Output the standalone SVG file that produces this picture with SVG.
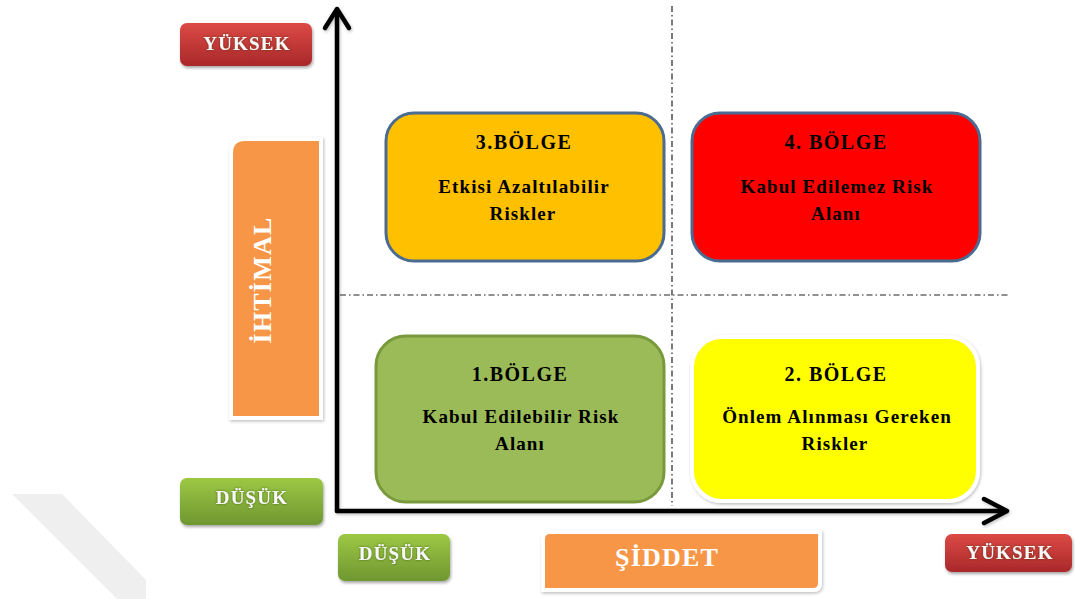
<svg xmlns="http://www.w3.org/2000/svg" width="1075" height="599" viewBox="0 0 1075 599">
  <style>
    .zone-title { font-family: "Liberation Serif", "Times New Roman", serif; font-weight: bold; font-size: 20px; letter-spacing: 1.5px; fill: #000; text-anchor: middle; }
    .zone-text { font-family: "Liberation Serif", "Times New Roman", serif; font-weight: bold; font-size: 19px; letter-spacing: 1.1px; fill: #000; text-anchor: middle; }
    .btn-text { font-family: "Liberation Serif", "Times New Roman", serif; font-weight: bold; font-size: 19px; letter-spacing: 1.2px; fill: #f8f8f8; text-anchor: middle; }
    .axis-title { font-family: "Liberation Serif", "Times New Roman", serif; font-weight: bold; font-size: 26px; letter-spacing: 1.2px; fill: #ffffff; text-anchor: middle; }
    .axis { stroke: #000; stroke-width: 4.5; fill: none; stroke-linecap: round; stroke-linejoin: round; }
    .grid { stroke: #222; stroke-width: 1.2; fill: none; stroke-dasharray: 6 3 1.5 3; }
  </style>
  <defs>
    <linearGradient id="redGrad" x1="0" y1="0" x2="0" y2="1">
      <stop offset="0" stop-color="#dc4a45"/>
      <stop offset="1" stop-color="#a9282a"/>
    </linearGradient>
    <linearGradient id="greenGrad" x1="0" y1="0" x2="0" y2="1">
      <stop offset="0" stop-color="#9cc844"/>
      <stop offset="1" stop-color="#6f9731"/>
    </linearGradient>
    <filter id="shadow" x="-10%" y="-10%" width="130%" height="140%">
      <feDropShadow dx="1" dy="2" stdDeviation="1.5" flood-color="#000" flood-opacity="0.35"/>
    </filter>
    <filter id="softShadow" x="-10%" y="-10%" width="130%" height="130%">
      <feDropShadow dx="1" dy="1.5" stdDeviation="1.5" flood-color="#000" flood-opacity="0.25"/>
    </filter>
    <filter id="textGlow" x="-10%" y="-30%" width="120%" height="160%">
      <feDropShadow dx="0" dy="0" stdDeviation="0.8" flood-color="#2a3a10" flood-opacity="0.7"/>
    </filter>
  </defs>

  <!-- faint diagonal band in the lower-left corner -->
  <polygon points="12,494 62,494 146,580 146,599 117,599" fill="#efefef"/>

  <!-- dash-dot quadrant dividers and the two axes -->
  <g id="connectors">
    <line class="grid" x1="340" y1="295" x2="1010" y2="295"/>
    <line class="grid" x1="672" y1="6" x2="672" y2="506"/>
    <g filter="url(#softShadow)">
      <polyline class="axis" points="337,511 337,10"/>
      <polyline class="axis" points="325,28 337,9 349,28"/>
      <polyline class="axis" points="337,511 1006,511"/>
      <polyline class="axis" points="984,499 1007,511 984,523"/>
    </g>
  </g>

  <!-- zone 3: top-left -->
  <g id="zone3">
    <rect x="386" y="113" width="278" height="148" rx="28" fill="#ffc000" stroke="#4a6b92" stroke-width="3"/>
    <text class="zone-title" x="524" y="149">3.BÖLGE</text>
    <text class="zone-text" x="524" y="193">Etkisi Azaltılabilir</text>
    <text class="zone-text" x="523" y="220">Riskler</text>
  </g>

  <!-- zone 4: top-right -->
  <g id="zone4">
    <rect x="692" y="113" width="288" height="148" rx="28" fill="#ff0000" stroke="#4a6b92" stroke-width="3"/>
    <text class="zone-title" x="836" y="149">4. BÖLGE</text>
    <text class="zone-text" x="837" y="193">Kabul Edilemez Risk</text>
    <text class="zone-text" x="836" y="220">Alanı</text>
  </g>

  <!-- zone 1: bottom-left -->
  <g id="zone1">
    <rect x="376" y="336" width="288" height="166" rx="30" fill="#9bbb59" stroke="#789a3d" stroke-width="3"/>
    <text class="zone-title" x="520" y="381">1.BÖLGE</text>
    <text class="zone-text" x="521" y="423">Kabul Edilebilir Risk</text>
    <text class="zone-text" x="520" y="450">Alanı</text>
  </g>

  <!-- zone 2: bottom-right -->
  <g id="zone2">
    <rect x="692" y="337" width="286" height="164" rx="30" fill="#ffff00" stroke="#ffffff" stroke-width="4" filter="url(#softShadow)"/>
    <text class="zone-title" x="836" y="381">2. BÖLGE</text>
    <text class="zone-text" x="837" y="423">Önlem Alınması Gereken</text>
    <text class="zone-text" x="835" y="450">Riskler</text>
  </g>

  <!-- probability axis labels -->
  <g id="label-yuksek-y">
    <rect x="180" y="23" width="132" height="43" rx="7" fill="url(#redGrad)" filter="url(#shadow)"/>
    <text class="btn-text" x="247" y="50" filter="url(#textGlow)">YÜKSEK</text>
  </g>

  <g id="label-ihtimal">
    <path d="M245,139 H321 V418 H231 V153 Q231,139 245,139 Z" fill="#f79646" stroke="#ffffff" stroke-width="4" filter="url(#softShadow)"/>
    <text class="axis-title" transform="translate(271,280) rotate(-90)">İHTİMAL</text>
  </g>

  <g id="label-dusuk-y">
    <rect x="180" y="478" width="143" height="47" rx="7" fill="url(#greenGrad)" filter="url(#shadow)"/>
    <text class="btn-text" x="252" y="504" filter="url(#textGlow)">DÜŞÜK</text>
  </g>

  <!-- severity axis labels -->
  <g id="label-dusuk-x">
    <rect x="338" y="534" width="112" height="47" rx="7" fill="url(#greenGrad)" filter="url(#shadow)"/>
    <text class="btn-text" x="395" y="560" filter="url(#textGlow)">DÜŞÜK</text>
  </g>

  <g id="label-siddet">
    <path d="M550,532 H820 V583 Q820,590 813,590 H543 V539 Q543,532 550,532 Z" fill="#f79646" stroke="#ffffff" stroke-width="4" filter="url(#softShadow)"/>
    <text class="axis-title" x="667" y="566">ŞİDDET</text>
  </g>

  <g id="label-yuksek-x">
    <rect x="945" y="534" width="127" height="38" rx="7" fill="url(#redGrad)" filter="url(#shadow)"/>
    <text class="btn-text" x="1010" y="559" filter="url(#textGlow)">YÜKSEK</text>
  </g>
</svg>
